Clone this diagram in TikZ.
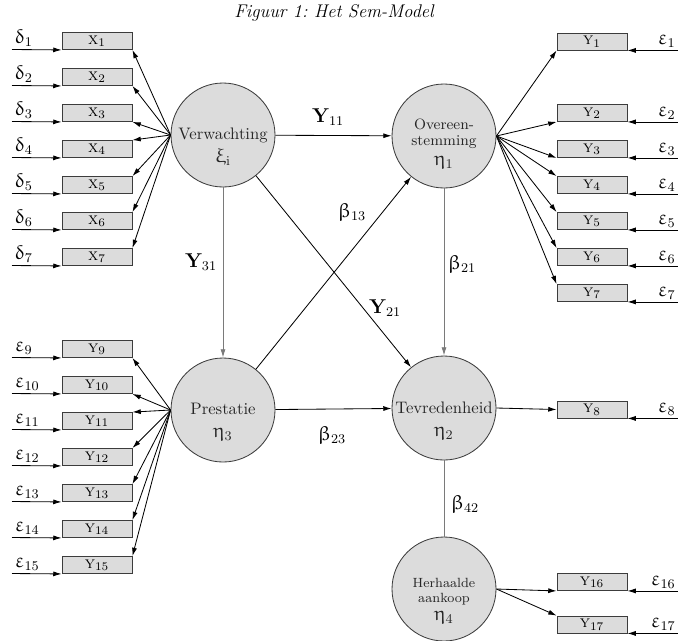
\documentclass[tikz,border=0pt]{standalone}
\usepackage{amsmath,amssymb}
\usepackage[Euler]{upgreek}
\usepackage{tikz}
\usetikzlibrary{arrows.meta,positioning,calc}
\definecolor{LatentFill}{HTML}{DCDCDC}
\definecolor{LineGrey}{HTML}{7A7A7A}
\definecolor{EdgeDark}{HTML}{3C3C3C}
\tikzset{
  latent/.style={circle,draw=EdgeDark,fill=LatentFill,minimum size=62.4pt,inner sep=0pt},
  lattext/.style={align=center,inner sep=0pt,text=black!85},
  indicator/.style={draw=EdgeDark,fill=LatentFill,minimum width=42pt,minimum height=10.2pt,inner sep=0pt,font=\normalsize},
  errlab/.style={inner sep=1.5pt,font=\large},
  pathlab/.style={inner sep=0pt,font=\large},
}

\begin{document}
\begin{tikzpicture}[x=0.6pt,y=-0.6pt,>={Latex[length=5pt,width=3pt]},line width=0.5pt]
  \useasboundingbox (0,0) rectangle (678,640);
  \node[font=\itshape\fontsize{11}{13}\selectfont] (title) at (334,13) {Figuur 1:\ Het Sem-Model};

  % latente variabelen
  \node[latent] (ksi) at (223,135) {};
  \node[latent] (eta1) at (444,136) {};
  \node[latent] (eta3) at (223,410) {};
  \node[latent] (eta2) at (444,408) {};
  \node[latent] (eta4) at (444,589) {};
  \node[lattext] (ksitxt) at ($(ksi)+(0,12)$) {Verwachting\\[2pt]{\large$\upxi_{\mathrm{i}}$}};
  \node[lattext,font=\small] (eta1txt) at ($(eta1)+(0,8)$) {Overeen-\\[-1pt]stemming\\[1pt]{\large$\upeta_{1}$}};
  \node[lattext] (eta3txt) at ($(eta3)+(0,12)$) {Prestatie\\[2pt]{\large$\upeta_{3}$}};
  \node[lattext] (eta2txt) at ($(eta2)+(0,13)$) {Tevredenheid\\[2pt]{\large$\upeta_{2}$}};
  \node[lattext,font=\footnotesize] (eta4txt) at ($(eta4)+(0,12)$) {Herhaalde\\aankoop\\[1pt]{\large$\upeta_{4}$}};

  % indicatoren links
  \foreach \i in {1,...,7}{
    \node[indicator] (x\i) at (97,{41+36*(\i-1)}) {\textsc{x}$_{\i}$};
    \coordinate (d\i) at (12,{49.5+36*(\i-1)});
    \draw[->] (d\i) -- (x\i.south west);
    \node[errlab,anchor=south west] (dl\i) at (d\i) {$\updelta_{\i}$};
  }
  \foreach \i in {9,...,15}{
    \node[indicator] (y\i) at (97,{349+36*(\i-9)}) {\textsc{y}$_{\i}$};
    \coordinate (e\i) at (12,{357.5+36*(\i-9)});
    \draw[->] (e\i) -- (y\i.south west);
    \node[errlab,anchor=south west] (el\i) at (e\i) {$\upvarepsilon_{\i}$};
  }

  % indicatoren rechts
  \node[indicator] (y1) at (592,41.5) {\textsc{y}$_{1}$};
  \foreach \i in {2,...,7}
    \node[indicator] (y\i) at (592,{113+36*(\i-2)}) {\textsc{y}$_{\i}$};
  \node[indicator] (y8) at (592,409.5) {\textsc{y}$_{8}$};
  \node[indicator] (y16) at (592,582) {\textsc{y}$_{16}$};
  \node[indicator] (y17) at (592,624.5) {\textsc{y}$_{17}$};
  \foreach \i in {1,...,8,16,17}{
    \coordinate (e\i) at ($(y\i.south east)+(51,0)$);
    \draw[->] (e\i) -- (y\i.south east);
    \node[errlab,anchor=south east] (el\i) at (e\i) {$\upvarepsilon_{\i}$};
  }

  % ladingen
  \foreach \i in {1,2,3} \draw[->] (ksi.west) -- (x\i.south east);
  \foreach \i in {4,...,7} \draw[->] (ksi.west) -- (x\i.north east);
  \foreach \i in {9,10} \draw[->] (eta3.west) -- (y\i.south east);
  \foreach \i in {11,...,15} \draw[->] (eta3.west) -- (y\i.north east);
  \foreach \i in {1,2,3} \draw[->] (eta1.east) -- (y\i.south west);
  \foreach \i in {4,...,7} \draw[->] (eta1.east) -- (y\i.north west);
  \draw[->] (eta2.east) -- (y8.west);
  \draw[->] (eta4.east) -- (y16.south west);
  \draw[->] (eta4.east) -- (y17.north west);

  % structurele paden
  \draw[->] (ksi) -- (eta1);
  \draw[->,LineGrey] (ksi) -- (eta3);
  \draw[->] (ksi) -- (eta2);
  \draw[->] (eta3) -- (eta1);
  \draw[->] (eta3) -- (eta2);
  \draw[->,LineGrey] (eta1) -- (eta2);
  \draw[LineGrey] (eta2) -- (eta4);

  \node[pathlab] (g11) at (328,117) {$\mathbf{Y}_{11}$};
  \node[pathlab] (g31) at (201,262) {$\mathbf{Y}_{31}$};
  \node[pathlab] (g21) at (385,308) {$\mathbf{Y}_{21}$};
  \node[pathlab] (b13) at (352,212) {$\upbeta_{13}$};
  \node[pathlab] (b21) at (462,264) {$\upbeta_{21}$};
  \node[pathlab] (b23) at (332,435) {$\upbeta_{23}$};
  \node[pathlab] (b42) at (465,504) {$\upbeta_{42}$};
\end{tikzpicture}
\end{document}
